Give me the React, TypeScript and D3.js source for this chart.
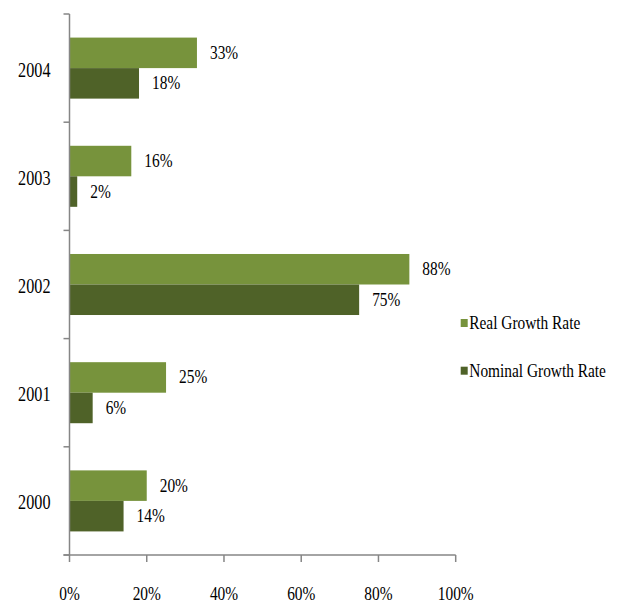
import React from "react";
import * as d3 from "d3";

const years = ["2000", "2001", "2002", "2003", "2004"];
const realGrowth = [20, 25, 88, 16, 33];
const nominalGrowth = [14, 6, 75, 2, 18];
const xTicks = [0, 20, 40, 60, 80, 100];
const seriesNames = ["Real Growth Rate", "Nominal Growth Rate"];
const seriesColors = ["#77933C", "#4F6228"];

const W = 623;
const H = 605;
const FONT = "'Liberation Serif', 'DejaVu Serif', serif";
const SX = 0.81;

function CText(props: {
  x: number;
  y: number;
  size: number;
  anchor?: "start" | "middle" | "end";
  children: React.ReactNode;
}) {
  return (
    <g transform={`translate(${props.x},${props.y}) scale(${SX},1)`}>
      <text
        x={0}
        y={0}
        textAnchor={props.anchor || "start"}
        dominantBaseline="central"
        fontSize={props.size}
        fill="#000"
      >
        {props.children}
      </text>
    </g>
  );
}

export default function App() {
  const left = 69.5;
  const right = 455.7;
  const top = 14;
  const bottom = 555;

  const x = d3.scaleLinear().domain([0, 100]).range([left, right]);
  const y = d3
    .scaleBand<string>()
    .domain([...years].reverse())
    .range([top, bottom])
    .paddingInner(0)
    .paddingOuter(0);
  const sub = d3
    .scaleBand<string>()
    .domain(seriesNames)
    .range([0, y.bandwidth()])
    .paddingInner(0)
    .paddingOuter(0.773);

  const series = [realGrowth, nominalGrowth];
  const axisColor = "#868686";

  const yBoundaries = d3.range(years.length + 1).map((i) => top + i * y.step());

  return (
    <svg
      width={W}
      height={H}
      style={{ position: "absolute", left: 0, top: 0, background: "#fff" }}
      fontFamily={FONT}
    >
      {/* bars */}
      {years.map((yr, i) =>
        series.map((vals, s) => {
          const by = (y(yr) as number) + (sub(seriesNames[s]) as number);
          const bh = sub.bandwidth();
          return (
            <g key={yr + s}>
              <rect
                x={x(0)}
                y={by}
                width={x(vals[i]) - x(0)}
                height={bh}
                fill={seriesColors[s]}
              />
              <CText x={x(vals[i]) + 13} y={by + bh / 2} size={19}>
                {vals[i]}%
              </CText>
            </g>
          );
        })
      )}

      {/* y axis */}
      <line x1={left} x2={left} y1={top} y2={bottom} stroke={axisColor} strokeWidth={1.5} />
      {yBoundaries.map((b, i) => (
        <line key={i} x1={left - 6} x2={left} y1={b} y2={b} stroke={axisColor} strokeWidth={1.5} />
      ))}
      {years.map((yr) => (
        <CText
          key={yr}
          x={left - 19}
          y={(y(yr) as number) + y.bandwidth() / 2 + 2}
          size={20}
          anchor="end"
        >
          {yr}
        </CText>
      ))}

      {/* x axis */}
      <line x1={left - 6} x2={right} y1={bottom} y2={bottom} stroke={axisColor} strokeWidth={1.5} />
      {xTicks.map((t) => (
        <g key={t}>
          <line x1={x(t)} x2={x(t)} y1={bottom} y2={bottom + 7} stroke={axisColor} strokeWidth={1.5} />
          <CText x={x(t)} y={594} size={19} anchor="middle">
            {t}%
          </CText>
        </g>
      ))}

      {/* legend */}
      {seriesNames.map((name, s) => {
        const ly = 323 + s * 47.7;
        return (
          <g key={name}>
            <rect x={460.7} y={ly - 4} width={7} height={8} fill={seriesColors[s]} />
            <CText x={469.3} y={ly} size={19}>
              {name}
            </CText>
          </g>
        );
      })}
    </svg>
  );
}
